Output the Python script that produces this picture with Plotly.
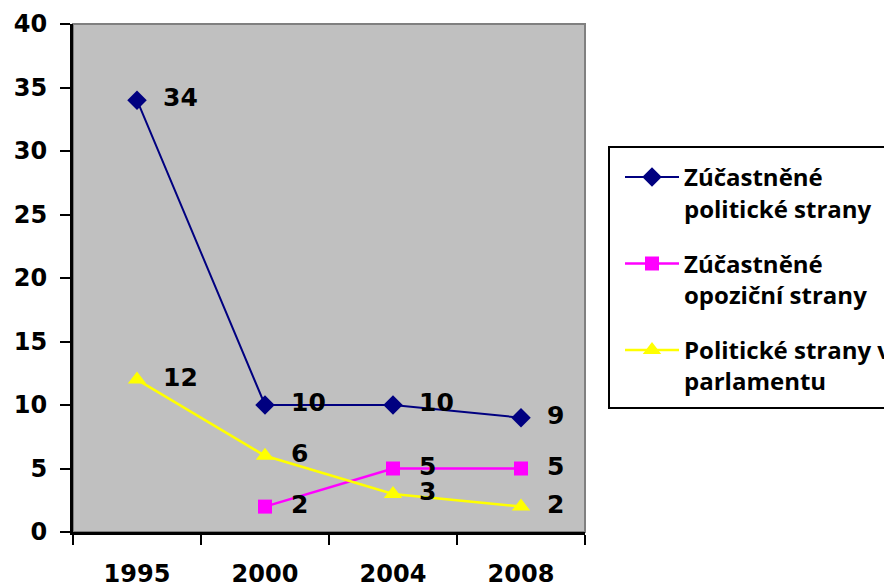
import plotly.graph_objects as go

years = ["1995", "2000", "2004", "2008"]
ucast_polit = [34, 10, 10, 9]
opoz_years = ["2000", "2004", "2008"]
ucast_opoz = [2, 5, 5]
parlament = [12, 6, 3, 2]

names = ["Zúčastněné<br>politické strany",
         "Zúčastněné<br>opoziční strany",
         "Politické strany v<br>parlamentu"]

# the page body offsets the figure by 8px; positions below are in screen pixels
OFF = 8
W, H = 892 - OFF, 585 - OFF
L, R, T, B = 73 - OFF, 585 - OFF, 24 - OFF, 532 - OFF

fig = go.Figure()

series = [
    (years, ucast_polit, "#000080", "diamond", 15, 2, names[0]),
    (opoz_years, ucast_opoz, "#FF00FF", "square", 14, 2.5, names[1]),
    (years, parlament, "#FFFF00", "triangle-up", 16, 2.5, names[2]),
]
for i, (xs, ys, col, sym, sz, lw, nm) in enumerate(series):
    fig.add_trace(go.Scatter(
        x=xs, y=ys, mode="lines+markers", name=nm, legendgroup=f"g{i}",
        line=dict(color=col, width=lw),
        marker=dict(symbol=sym, size=sz, color=col),
        cliponaxis=False,
    ))
for xs, ys, col, sym, sz, lw, nm in series:
    fig.add_trace(go.Scatter(
        x=xs, y=ys, mode="text", text=[f"   {v}" for v in ys],
        textposition="middle right", showlegend=False, hoverinfo="skip",
        textfont=dict(family="DejaVu Sans", size=25, color="black", weight="bold"),
        cliponaxis=False,
    ))

pw, ph = R - L, B - T
def px(x):
    return (x - OFF - L) / pw
def py(y):
    return (B - (y - OFF)) / ph

# plot border (top/right grey)
fig.add_shape(type="rect", xref="paper", yref="paper", x0=0, x1=1, y0=0, y1=1,
              line=dict(color="#808080", width=2), layer="below")
# legend box (right side runs off the page, as in the reference)
bx0, bx1, by0, by1 = px(609), px(920), py(408), py(147)
fig.add_shape(type="path", xref="paper", yref="paper",
              path=f"M {bx1},{by0} L {bx0},{by0} L {bx0},{by1} L {bx1},{by1}",
              line=dict(color="black", width=2), layer="below")

axis_font = dict(family="DejaVu Sans", size=24, color="black", weight="bold")

fig.update_layout(
    width=W, height=H,
    margin=dict(l=L, r=W - R, t=T, b=H - B, pad=0, autoexpand=False),
    paper_bgcolor="white",
    plot_bgcolor="#C0C0C0",
    showlegend=True,
    legend=dict(
        x=px(620), y=py(155), xanchor="left", yanchor="top",
        bgcolor="rgba(0,0,0,0)", borderwidth=0,
        font=dict(family="Open Sans", size=24, color="black", weight="bold"),
        itemwidth=54, tracegroupgap=21, valign="top",
        traceorder="grouped",
    ),
    xaxis=dict(
        type="category", categoryorder="array", categoryarray=years,
        range=[-0.5, 3.5], tickson="boundaries",
        ticks="outside", ticklen=10, tickwidth=2, tickcolor="black",
        showline=True, linecolor="black", linewidth=3,
        showgrid=False, zeroline=False, automargin=False,
        tickfont=axis_font, ticklabelstandoff=18,
    ),
    yaxis=dict(
        range=[0, 40], dtick=5, tick0=0,
        ticks="outside", ticklen=10, tickwidth=2, tickcolor="black",
        showline=True, linecolor="black", linewidth=3,
        showgrid=False, zeroline=False, automargin=False,
        tickfont=axis_font, ticklabelstandoff=8,
    ),
)

fig.write_html("out.html")
